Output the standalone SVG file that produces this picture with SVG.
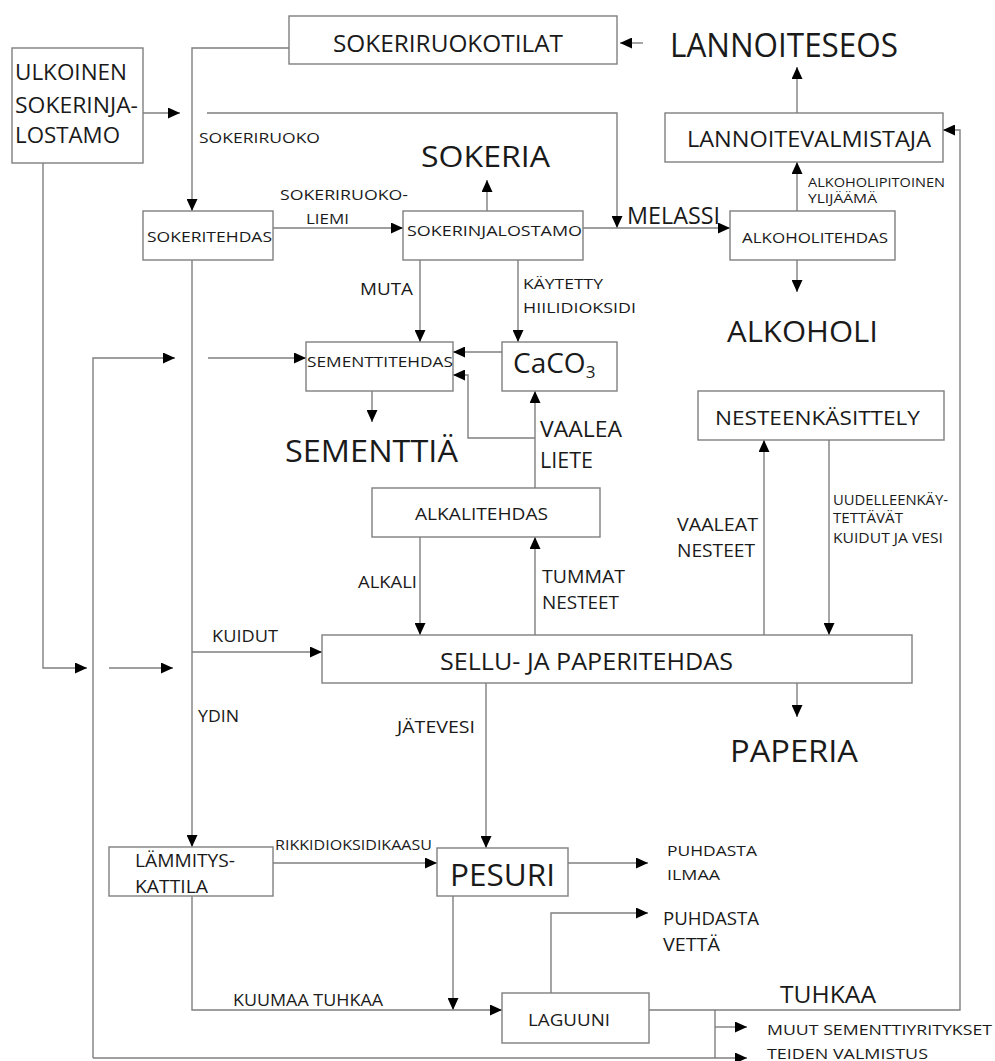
<svg xmlns="http://www.w3.org/2000/svg" width="995" height="1061" viewBox="0 0 995 1061">
<style>
.box{fill:#fff;stroke:#7f7f7f;stroke-width:1.4}
.ln{fill:none;stroke:#7f7f7f;stroke-width:1.4}
.ar{marker-end:url(#ah)}
text{font-family:"Open Sans","Liberation Sans",sans-serif;fill:#1a1a1a}
</style>
<defs>
<marker id="ah" markerUnits="userSpaceOnUse" markerWidth="12" markerHeight="11" viewBox="0 0 12 11" refX="12" refY="5.5" orient="auto">
<path d="M0,0 L12,5.5 L0,11 z" fill="#000"/>
</marker>
</defs>
<rect width="995" height="1061" fill="#fff"/>

<g id="connectors">
<path class="ln ar" d="M289,48 L192,48 L192,211"/>
<path class="ln ar" d="M143,113 L180,113"/>
<path class="ln ar" d="M207,113 L617,113 L617,228"/>
<path class="ln ar" d="M273,228 L403,228"/>
<path class="ln ar" d="M583,228 L730,228"/>
<path class="ln ar" d="M487,211 L487,180"/>
<path class="ln ar" d="M643,43 L620,43"/>
<path class="ln ar" d="M797,113 L797,67"/>
<path class="ln ar" d="M797,211 L797,162"/>
<path class="ln ar" d="M649,1010 L960,1010 L960,130 L943,130"/>
<path class="ln ar" d="M797,260 L797,292"/>
<path class="ln ar" d="M420,260 L420,342"/>
<path class="ln ar" d="M518,260 L518,342"/>
<path class="ln ar" d="M502,352 L453,352"/>
<path class="ln ar" d="M535,488 L535,391"/>
<path class="ln ar" d="M535,438 L468,438 L468,375 L453,375"/>
<path class="ln ar" d="M208,358 L306,358"/>
<path class="ln ar" d="M93,1058 L93,358 L175,358"/>
<path class="ln ar" d="M93,1058 L747,1058"/>
<path class="ln" d="M715,1010 L715,1058"/>
<path class="ln ar" d="M715,1027 L747,1027"/>
<path class="ln ar" d="M372,391 L372,422"/>
<path class="ln ar" d="M192,260 L192,847"/>
<path class="ln ar" d="M192,652 L322,652"/>
<path class="ln ar" d="M43,163 L43,668 L87,668"/>
<path class="ln ar" d="M109,668 L173,668"/>
<path class="ln ar" d="M420,537 L420,635"/>
<path class="ln ar" d="M535,635 L535,537"/>
<path class="ln ar" d="M764,635 L764,440"/>
<path class="ln ar" d="M829,440 L829,635"/>
<path class="ln ar" d="M797,683 L797,717"/>
<path class="ln ar" d="M486,683 L486,848"/>
<path class="ln ar" d="M273,863 L437,863"/>
<path class="ln ar" d="M568,863 L648,863"/>
<path class="ln ar" d="M453,896 L453,1010"/>
<path class="ln ar" d="M192,896 L192,1010 L502,1010"/>
<path class="ln ar" d="M551,993 L551,913 L648,913"/>
</g>

<g id="labels">
<text x="199" y="143" font-size="15" textLength="121" lengthAdjust="spacingAndGlyphs">SOKERIRUOKO</text>
<text x="280" y="200" font-size="15" textLength="128" lengthAdjust="spacingAndGlyphs">SOKERIRUOKO-</text>
<text x="306" y="224" font-size="15" textLength="43" lengthAdjust="spacingAndGlyphs">LIEMI</text>
<text x="627" y="224" font-size="23" textLength="93" lengthAdjust="spacingAndGlyphs">MELASSI</text>
<text x="808" y="187" font-size="13" textLength="137" lengthAdjust="spacingAndGlyphs">ALKOHOLIPITOINEN</text>
<text x="808" y="203" font-size="13" textLength="69" lengthAdjust="spacingAndGlyphs">YLIJÄÄMÄ</text>
<text x="360" y="295" font-size="16" textLength="53" lengthAdjust="spacingAndGlyphs">MUTA</text>
<text x="523" y="289" font-size="15" textLength="80" lengthAdjust="spacingAndGlyphs">KÄYTETTY</text>
<text x="523" y="313" font-size="15" textLength="113" lengthAdjust="spacingAndGlyphs">HIILIDIOKSIDI</text>
<text x="540" y="437" font-size="22" textLength="82" lengthAdjust="spacingAndGlyphs">VAALEA</text>
<text x="540" y="468" font-size="22" textLength="53" lengthAdjust="spacingAndGlyphs">LIETE</text>
<text x="358" y="588" font-size="17" textLength="59" lengthAdjust="spacingAndGlyphs">ALKALI</text>
<text x="542" y="583" font-size="19" textLength="83" lengthAdjust="spacingAndGlyphs">TUMMAT</text>
<text x="542" y="609" font-size="19" textLength="77" lengthAdjust="spacingAndGlyphs">NESTEET</text>
<text x="677" y="531" font-size="19" textLength="81" lengthAdjust="spacingAndGlyphs">VAALEAT</text>
<text x="677" y="557" font-size="19" textLength="78" lengthAdjust="spacingAndGlyphs">NESTEET</text>
<text x="833" y="505" font-size="14" textLength="115" lengthAdjust="spacingAndGlyphs">UUDELLEENKÄY-</text>
<text x="833" y="523" font-size="14" textLength="70" lengthAdjust="spacingAndGlyphs">TETTÄVÄT</text>
<text x="833" y="543" font-size="14" textLength="110" lengthAdjust="spacingAndGlyphs">KUIDUT JA VESI</text>
<text x="212" y="642" font-size="17" textLength="66" lengthAdjust="spacingAndGlyphs">KUIDUT</text>
<text x="198" y="722" font-size="17" textLength="41" lengthAdjust="spacingAndGlyphs">YDIN</text>
<text x="397" y="733" font-size="17" textLength="78" lengthAdjust="spacingAndGlyphs">JÄTEVESI</text>
<text x="275" y="850" font-size="14" textLength="157" lengthAdjust="spacingAndGlyphs">RIKKIDIOKSIDIKAASU</text>
<text x="233" y="1006" font-size="17" textLength="150" lengthAdjust="spacingAndGlyphs">KUUMAA TUHKAA</text>
</g>

<g id="ulkoinen">
<rect class="box" x="12" y="48" width="131" height="115"/>
<text x="15" y="80" font-size="22" textLength="112" lengthAdjust="spacingAndGlyphs">ULKOINEN</text>
<text x="15" y="113" font-size="22" textLength="123" lengthAdjust="spacingAndGlyphs">SOKERINJA-</text>
<text x="15" y="143" font-size="22" textLength="105" lengthAdjust="spacingAndGlyphs">LOSTAMO</text>
</g>
<g id="sokeriruokotilat">
<rect class="box" x="289" y="16" width="328" height="48"/>
<text x="333" y="52" font-size="23" textLength="230" lengthAdjust="spacingAndGlyphs">SOKERIRUOKOTILAT</text>
</g>
<g id="lannoiteseos">
<text x="670" y="57" font-size="32" textLength="228" lengthAdjust="spacingAndGlyphs">LANNOITESEOS</text>
</g>
<g id="lannoitevalmistaja">
<rect class="box" x="665" y="113" width="278" height="49"/>
<text x="687" y="147" font-size="22" textLength="244" lengthAdjust="spacingAndGlyphs">LANNOITEVALMISTAJA</text>
</g>
<g id="sokeria">
<text x="421" y="167" font-size="29" textLength="129" lengthAdjust="spacingAndGlyphs">SOKERIA</text>
</g>
<g id="sokeritehdas">
<rect class="box" x="143" y="211" width="130" height="49"/>
<text x="147" y="242" font-size="15" textLength="125" lengthAdjust="spacingAndGlyphs">SOKERITEHDAS</text>
</g>
<g id="sokerinjalostamo">
<rect class="box" x="403" y="211" width="180" height="49"/>
<text x="407" y="236" font-size="15" textLength="175" lengthAdjust="spacingAndGlyphs">SOKERINJALOSTAMO</text>
</g>
<g id="alkoholitehdas">
<rect class="box" x="730" y="211" width="165" height="49"/>
<text x="742" y="243" font-size="15" textLength="146" lengthAdjust="spacingAndGlyphs">ALKOHOLITEHDAS</text>
</g>
<g id="alkoholi">
<text x="727" y="342" font-size="30" textLength="151" lengthAdjust="spacingAndGlyphs">ALKOHOLI</text>
</g>
<g id="sementtitehdas">
<rect class="box" x="306" y="342" width="147" height="49"/>
<text x="307" y="367" font-size="15" textLength="146" lengthAdjust="spacingAndGlyphs">SEMENTTITEHDAS</text>
</g>
<g id="caco3">
<rect class="box" x="502" y="342" width="115" height="49"/>
<text x="513" y="373" font-size="28">CaCO<tspan font-size="17" dy="5">3</tspan></text>
</g>
<g id="sementtia">
<text x="285" y="462" font-size="31" textLength="173" lengthAdjust="spacingAndGlyphs">SEMENTTIÄ</text>
</g>
<g id="nesteenkasittely">
<rect class="box" x="698" y="391" width="246" height="49"/>
<text x="715" y="425" font-size="20" textLength="205" lengthAdjust="spacingAndGlyphs">NESTEENKÄSITTELY</text>
</g>
<g id="alkalitehdas">
<rect class="box" x="372" y="488" width="228" height="49"/>
<text x="415" y="520" font-size="16" textLength="133" lengthAdjust="spacingAndGlyphs">ALKALITEHDAS</text>
</g>
<g id="sellu">
<rect class="box" x="322" y="635" width="590" height="48"/>
<text x="440" y="670" font-size="24" textLength="293" lengthAdjust="spacingAndGlyphs">SELLU- JA PAPERITEHDAS</text>
</g>
<g id="paperia">
<text x="730" y="762" font-size="31" textLength="128" lengthAdjust="spacingAndGlyphs">PAPERIA</text>
</g>
<g id="lammityskattila">
<rect class="box" x="109" y="847" width="164" height="49"/>
<text x="135" y="867" font-size="19" textLength="100" lengthAdjust="spacingAndGlyphs">LÄMMITYS-</text>
<text x="135" y="893" font-size="19" textLength="73" lengthAdjust="spacingAndGlyphs">KATTILA</text>
</g>
<g id="pesuri">
<rect class="box" x="437" y="848" width="131" height="48"/>
<text x="450" y="886" font-size="31" textLength="105" lengthAdjust="spacingAndGlyphs">PESURI</text>
</g>
<g id="puhdasta-ilmaa">
<text x="667" y="856" font-size="15" textLength="90" lengthAdjust="spacingAndGlyphs">PUHDASTA</text>
<text x="667" y="880" font-size="15" textLength="53" lengthAdjust="spacingAndGlyphs">ILMAA</text>
</g>
<g id="puhdasta-vetta">
<text x="663" y="925" font-size="18" textLength="96" lengthAdjust="spacingAndGlyphs">PUHDASTA</text>
<text x="663" y="951" font-size="18" textLength="57" lengthAdjust="spacingAndGlyphs">VETTÄ</text>
</g>
<g id="laguuni">
<rect class="box" x="502" y="993" width="147" height="50"/>
<text x="528" y="1026" font-size="17" textLength="82" lengthAdjust="spacingAndGlyphs">LAGUUNI</text>
</g>
<g id="tuhkaa">
<text x="780" y="1003" font-size="24" textLength="96" lengthAdjust="spacingAndGlyphs">TUHKAA</text>
</g>
<g id="muut">
<text x="767" y="1035" font-size="15" textLength="225" lengthAdjust="spacingAndGlyphs">MUUT SEMENTTIYRITYKSET</text>
</g>
<g id="teiden">
<text x="767" y="1059" font-size="15" textLength="161" lengthAdjust="spacingAndGlyphs">TEIDEN VALMISTUS</text>
</g>
</svg>
